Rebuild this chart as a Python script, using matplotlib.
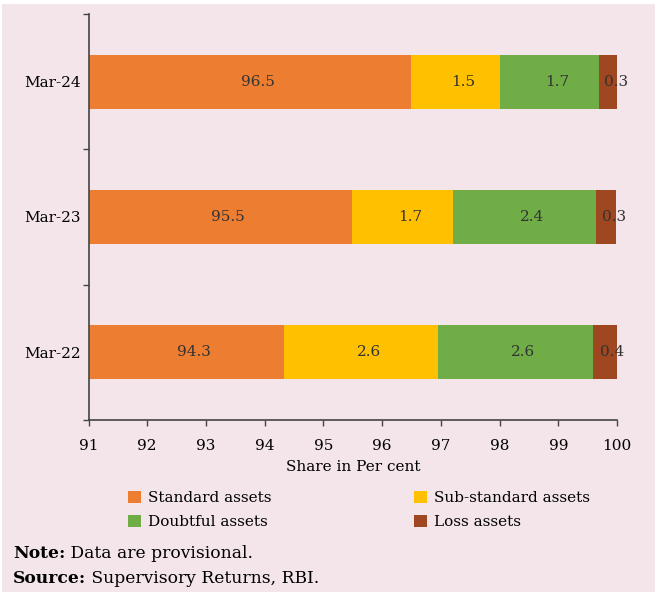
import matplotlib
matplotlib.use("Agg")
import matplotlib.pyplot as plt
from matplotlib.patches import Rectangle
import numpy as np

categories = ["Mar-22", "Mar-23", "Mar-24"]
series_names = ["Standard assets", "Sub-standard assets", "Doubtful assets", "Loss assets"]
standard = [94.33, 95.49, 96.5]
substandard = [2.62, 1.72, 1.5]
doubtful = [2.64, 2.44, 1.7]
loss = [0.41, 0.34, 0.3]
xticks = [91, 92, 93, 94, 95, 96, 97, 98, 99, 100]

colors = ["#ED7D31", "#FFC000", "#70AD47", "#9E4720"]
bg = "#F3E5EA"
plt.rcParams['font.family'] = ['DejaVu Serif']

fig = plt.figure(figsize=(6.57, 5.92), dpi=100, facecolor="white")
fig.patches.append(Rectangle((2/657, 0), 653/657, 1 - 4/592, transform=fig.transFigure,
                             facecolor=bg, edgecolor="none", zorder=-10))
ax = fig.add_axes([88.5/657, 1 - 420/592, 528.5/657, 406/592])
ax.set_facecolor(bg)

y = np.arange(len(categories))
left = np.zeros(len(categories))
handles = []
for i, (vals, col, name) in enumerate(zip([standard, substandard, doubtful, loss], colors, series_names)):
    bars = ax.barh(y, vals, left=left, height=0.4, color=col, label=name, zorder=2)
    handles.append(bars)
    for b, v, l in zip(bars, vals, left):
        lo = max(l, 91)
        cx = (lo + l + v) / 2
        ax.annotate(f"{v:.1f}", (cx, b.get_y() + b.get_height() / 2), xytext=(5.5, 0),
                    textcoords="offset points", ha="center", va="center",
                    fontsize=11, color="#333333", zorder=3)
    left = left + np.array(vals)

ax.set_xlim(91, 100)
ax.set_ylim(-0.5, 2.5)
ax.set_xticks(xticks)
ax.set_xticklabels([str(t) for t in xticks], fontsize=11)
ax.set_yticks(y)
ax.set_yticklabels(categories, fontsize=11)
ax.tick_params(axis="y", which="major", length=0, pad=5.5)
ax.set_yticks([-0.5, 0.5, 1.5, 2.5], minor=True)
ax.tick_params(axis="y", which="minor", length=4, width=1, direction="out", color="#444444")
ax.tick_params(axis="x", length=4, width=1, color="#444444", pad=9.5)
for s in ["top", "right"]:
    ax.spines[s].set_visible(False)
for s in ["left", "bottom"]:
    ax.spines[s].set_color("#444444")
    ax.spines[s].set_linewidth(1.2)
ax.set_xlabel("Share in Per cent", fontsize=11, labelpad=5)

order = [0, 2, 1, 3]
leg = fig.legend([handles[k] for k in order], [series_names[k] for k in order],
                 loc="center", bbox_to_anchor=(359/657, 1 - 510/592), ncol=2,
                 frameon=False, fontsize=11, handlelength=0.85, handleheight=0.85,
                 columnspacing=9.3, labelspacing=0.6, handletextpad=0.5)

note_fs = 12.3
t1 = fig.text(13/657, 1 - 558/592, "Note:", fontsize=note_fs, fontweight="bold", va="baseline")
fig.add_artist(plt.Annotation(" Data are provisional.", xy=(1, 0), xycoords=t1,
                              fontsize=note_fs, va="bottom", ha="left"))
t2 = fig.text(13/657, 1 - 583/592, "Source:", fontsize=note_fs, fontweight="bold", va="baseline")
fig.add_artist(plt.Annotation(" Supervisory Returns, RBI.", xy=(1, 0), xycoords=t2,
                              fontsize=note_fs, va="bottom", ha="left"))

fig.savefig("out.png", dpi=100, facecolor=fig.get_facecolor())
